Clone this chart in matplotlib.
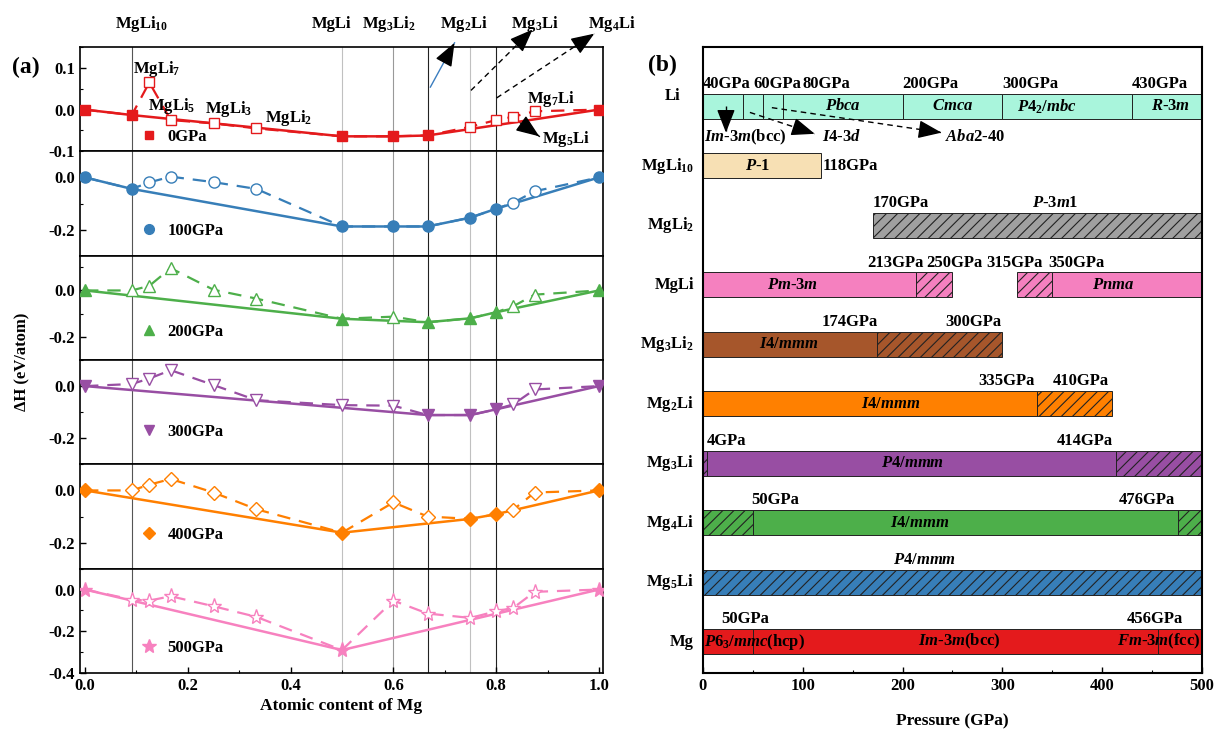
import matplotlib
matplotlib.use('Agg')
from matplotlib import pyplot as plt
from matplotlib.ticker import MultipleLocator, FormatStrFormatter
from matplotlib.lines import Line2D
import numpy as np

plt.rcParams['font.family'] = 'Liberation Serif'
plt.rcParams['font.weight'] = 'bold'
plt.rcParams['axes.unicode_minus'] = False
plt.rcParams['mathtext.fontset'] = 'custom'
plt.rcParams['mathtext.rm'] = 'Liberation Serif:bold'
plt.rcParams['mathtext.it'] = 'Liberation Serif:italic:bold'
plt.rcParams['mathtext.bf'] = 'Liberation Serif:bold'
plt.rcParams['hatch.linewidth'] = 0.8

# ---------------- (a) formation enthalpy vs composition ----------------
x_mg = np.array([0, 1/11, 1/8, 1/6, 1/4, 1/3, 1/2, 3/5, 2/3, 3/4, 4/5, 5/6, 7/8, 1])
pressures = [0, 100, 200, 300, 400, 500]

dH_0 = [0, -0.013, 0.065, -0.025, -0.033, -0.045, -0.064, -0.064, -0.062, -0.041, -0.025, -0.017, -0.004, 0]
dH_100 = [0, -0.044, -0.019, 0.003, -0.018, -0.044, -0.188, -0.188, -0.188, -0.154, -0.120, -0.097, -0.053, 0]
dH_200 = [0, 0.0, 0.020, 0.096, 0.003, -0.035, -0.122, -0.113, -0.137, -0.120, -0.094, -0.068, -0.018, 0]
dH_300 = [0, 0.008, 0.029, 0.061, 0.004, -0.054, -0.073, -0.075, -0.111, -0.111, -0.089, -0.070, -0.013, 0]
dH_400 = [0, 0.0, 0.022, 0.044, -0.008, -0.072, -0.162, -0.046, -0.100, -0.109, -0.091, -0.074, -0.008, 0]
dH_500 = [0, -0.048, -0.053, -0.032, -0.080, -0.131, -0.290, -0.053, -0.115, -0.136, -0.104, -0.088, -0.011, 0]
dH_all = [dH_0, dH_100, dH_200, dH_300, dH_400, dH_500]

# compositions on the convex hull at each pressure
stable_0 = [0, 1/11, 1/2, 3/5, 2/3, 1]
stable_100 = [0, 1/11, 1/2, 3/5, 2/3, 3/4, 4/5, 1]
stable_200 = [0, 1/2, 2/3, 3/4, 4/5, 1]
stable_300 = [0, 2/3, 3/4, 4/5, 1]
stable_400 = [0, 1/2, 3/4, 4/5, 1]
stable_500 = [0, 1/2, 1]
stable_all = [stable_0, stable_100, stable_200, stable_300, stable_400, stable_500]

colors = ['#e41a1c', '#377eb8', '#4daf4a', '#984ea3', '#ff7f00', '#f781bf']
markers = ['s', 'o', '^', 'v', 'D', '*']
msizes = [7, 8, 8.5, 8.5, 7.5, 11]
ylims = [(-0.1, 0.15), (-0.3, 0.1), (-0.3, 0.15), (-0.3, 0.1), (-0.3, 0.1), (-0.4, 0.1)]
legend_y = [0.14, 0.24, 0.27, 0.31, 0.32, 0.24]

# reference compositions marked by vertical lines
vlines_x = [1/11, 1/2, 3/5, 2/3, 3/4, 4/5]
vlines_c = ['#555555', '#c0c0c0', '#999999', '#222222', '#c0c0c0', '#222222']

fig = plt.figure(figsize=(12.15, 7.29), dpi=100)
gs = fig.add_gridspec(6, 1, left=0.0658, right=0.4963, top=0.9355, bottom=0.0768, hspace=0)
axes_a = [fig.add_subplot(gs[i]) for i in range(6)]


def draw_arrow(ax, start, tip, shaft='k', ls=(0, (4, 3)), lw=1.0, frac=0.2):
    ax.plot([start[0], tip[0]], [start[1], tip[1]], color=shaft, ls=ls, lw=lw, clip_on=False)
    base = (tip[0] - frac * (tip[0] - start[0]), tip[1] - frac * (tip[1] - start[1]))
    ax.annotate('', xy=tip, xytext=base, annotation_clip=False,
                arrowprops=dict(arrowstyle='-|>,head_length=0.9,head_width=0.35', color='k',
                                lw=lw, shrinkA=0, shrinkB=0, mutation_scale=16))


for i, ax in enumerate(axes_a):
    c = colors[i]
    y = np.array(dH_all[i])
    st = np.array([np.any(np.isclose(x, stable_all[i])) for x in x_mg])
    for xv, vc in zip(vlines_x, vlines_c):
        ax.axvline(xv, color=vc, lw=0.8, zorder=0)
    ax.plot(x_mg, y, color=c, ls=(0, (6, 4)), lw=1.6, zorder=2)
    ax.plot(x_mg[st], y[st], color=c, lw=1.8, zorder=3)
    ax.plot(x_mg[~st], y[~st], ls='none', marker=markers[i], ms=msizes[i], mfc='white',
            mec=c, mew=1.0, zorder=4)
    ax.plot(x_mg[st], y[st], ls='none', marker=markers[i], ms=msizes[i], color=c, zorder=5)
    h = Line2D([], [], ls='none', marker=markers[i], ms=msizes[i] - 1, color=c)
    ax.legend([h], [f'{pressures[i]}GPa'], loc='center left', bbox_to_anchor=(0.116, legend_y[i]),
              frameon=False, handlelength=1.0, handletextpad=0.6, borderpad=0, borderaxespad=0,
              prop={'size': 12, 'weight': 'bold'})
    ax.set_xlim(-0.01, 1.008)
    ax.set_ylim(*ylims[i])
    ax.yaxis.set_major_locator(MultipleLocator(0.1 if i == 0 else 0.2))
    ax.yaxis.set_minor_locator(MultipleLocator(0.05 if i == 0 else 0.1))
    ax.yaxis.set_major_formatter(FormatStrFormatter('%.1f'))
    ax.tick_params(axis='y', which='major', direction='in', length=4, width=1, labelsize=12)
    ax.tick_params(axis='y', which='minor', direction='in', length=2.5, width=0.8)
    for s in ax.spines.values():
        s.set_linewidth(1.2)
    if i < 5:
        ax.tick_params(axis='x', which='both', length=0, labelbottom=False)
    else:
        ax.xaxis.set_major_locator(MultipleLocator(0.2))
        ax.xaxis.set_minor_locator(MultipleLocator(0.1))
        ax.xaxis.set_major_formatter(FormatStrFormatter('%.1f'))
        ax.tick_params(axis='x', which='major', direction='in', length=4, width=1, labelsize=12)
        ax.tick_params(axis='x', which='minor', direction='in', length=2.5, width=0.8)
        ax.set_xlabel('Atomic content of Mg', fontsize=12.5, fontweight='bold', labelpad=3)

ax0 = axes_a[0]
# compound names along the top
top_names = [(0.11, r'MgLi$_{10}$', 'center'), (0.479, 'MgLi', 'center'), (0.592, r'Mg$_3$Li$_2$', 'center'),
             (0.737, r'Mg$_2$Li', 'center'), (0.876, r'Mg$_3$Li', 'center'), (0.978, r'Mg$_4$Li', 'left')]
for xt, txt, ha in top_names:
    ax0.text(xt, 0.205, txt, ha=ha, va='center', fontsize=12, clip_on=False)

# metastable phases named inside the 0 GPa panel
ax0.text(0.093, 0.098, r'MgLi$_7$', ha='left', va='center', fontsize=12)
ax0.text(0.122, 0.008, r'MgLi$_5$', ha='left', va='center', fontsize=12)
ax0.text(0.233, 0.001, r'MgLi$_3$', ha='left', va='center', fontsize=12)
ax0.text(0.351, -0.019, r'MgLi$_2$', ha='left', va='center', fontsize=12)
ax0.text(0.86, 0.026, r'Mg$_7$Li', ha='left', va='center', fontsize=12)
ax0.text(0.89, -0.07, r'Mg$_5$Li', ha='left', va='center', fontsize=12)
draw_arrow(ax0, (0.836, -0.022), (0.884, -0.064), ls='-', frac=0.5)

draw_arrow(ax0, (0.672, 0.054), (0.719, 0.16), shaft='#3b7dbf', ls='-', frac=0.3)
draw_arrow(ax0, (0.751, 0.046), (0.871, 0.192))
draw_arrow(ax0, (0.801, 0.028), (0.991, 0.182))

fig.text(26 / 1215, 1 - 67 / 729, '(a)', fontsize=17, ha='center', va='center')
fig.text(22 / 1215, 1 - 362 / 729, 'ΔH (eV/atom)', fontsize=12, rotation=90, ha='center', va='center')

# ---------------- (b) pressure ranges of each phase ----------------
row_labels = ['Li', r'MgLi$_{10}$', r'MgLi$_2$', 'MgLi', r'Mg$_3$Li$_2$', r'Mg$_2$Li',
              r'Mg$_3$Li', r'Mg$_4$Li', r'Mg$_5$Li', 'Mg']
row_colors = ['#a9f5dc', '#f7e0b4', '#a0a0a0', '#f580bf', '#a6562b', '#ff8000',
              '#984ea3', '#4daf4a', '#377eb8', '#e41a1c']

# boundaries (GPa) and segment type: 's' stable, 'h' metastable (hatched), None gap
li_edges = [0, 40, 60, 80, 200, 300, 430, 500]
li_kind = ['s', 's', 's', 's', 's', 's', 's']
mgli10_edges = [0, 118]
mgli10_kind = ['s']
mgli2_edges = [170, 500]
mgli2_kind = ['h']
mgli_edges = [0, 213, 250, 315, 350, 500]
mgli_kind = ['s', 'h', None, 'h', 's']
mg3li2_edges = [0, 174, 300]
mg3li2_kind = ['s', 'h']
mg2li_edges = [0, 335, 410]
mg2li_kind = ['s', 'h']
mg3li_edges = [0, 4, 414, 500]
mg3li_kind = ['h', 's', 'h']
mg4li_edges = [0, 50, 476, 500]
mg4li_kind = ['h', 's', 'h']
mg5li_edges = [0, 500]
mg5li_kind = ['h']
mg_edges = [0, 50, 456, 500]
mg_kind = ['s', 's', 's']

edges_all = [li_edges, mgli10_edges, mgli2_edges, mgli_edges, mg3li2_edges,
             mg2li_edges, mg3li_edges, mg4li_edges, mg5li_edges, mg_edges]
kind_all = [li_kind, mgli10_kind, mgli2_kind, mgli_kind, mg3li2_kind,
            mg2li_kind, mg3li_kind, mg4li_kind, mg5li_kind, mg_kind]

axb = fig.add_axes([0.5786, 0.0768, 0.9893 - 0.5786, 0.9355 - 0.0768])
bar_h = 0.42
for r, (edges, kinds) in enumerate(zip(edges_all, kind_all)):
    for k, kind in enumerate(kinds):
        if kind is None:
            continue
        axb.barh(r, edges[k + 1] - edges[k], left=edges[k], height=bar_h, color=row_colors[r],
                 edgecolor='#222222', linewidth=0.7, hatch='///' if kind == 'h' else None, zorder=2)
    lx, dy = (-0.045, -0.18) if r == 0 else (-0.018, 0.0)
    axb.text(lx, r + dy, row_labels[r], transform=axb.get_yaxis_transform(), ha='right',
             va='center', fontsize=12)

# transition pressure labels: (row, pressure, x position, alignment, vertical offset)
p_labels = [(0, 40, 0, 'left', -0.38), (0, 60, 50, 'left', -0.38), (0, 80, 100, 'left', -0.38),
            (0, 200, 200, 'left', -0.38), (0, 300, 300, 'left', -0.38), (0, 430, 430, 'left', -0.38),
            (1, 118, 120, 'left', 0.0), (2, 170, 170, 'left', -0.37),
            (3, 213, 165, 'left', -0.36), (3, 250, 224, 'left', -0.36), (3, 315, 284, 'left', -0.36),
            (3, 350, 346, 'left', -0.36),
            (4, 174, 175, 'right', -0.38), (4, 300, 299, 'right', -0.38),
            (5, 335, 332, 'right', -0.38), (5, 410, 407, 'right', -0.38),
            (6, 4, 4, 'left', -0.38), (6, 414, 411, 'right', -0.38),
            (7, 50, 48, 'left', -0.38), (7, 476, 473, 'right', -0.38),
            (9, 50, 42, 'center', -0.38), (9, 456, 453, 'center', -0.38)]
for r, p, xp, ha, dy in p_labels:
    axb.text(xp, r + dy, f'{p}GPa', ha=ha, va='center', fontsize=12)

# space-group names
sg_labels = [(0, r'$Pbca$', 140, 'center', 0.0), (0, r'$Cmca$', 250, 'center', 0.0),
             (0, r'$P$4$_2$/$mbc$', 345, 'center', 0.0), (0, r'$R$-3$m$', 468, 'center', 0.0),
             (0, r'$Im$-3$m$(bcc)', 1, 'left', 0.52), (0, r'$I$4-3$d$', 119, 'left', 0.52),
             (0, r'$Aba$2-40', 242, 'left', 0.52),
             (1, r'$P$-1', 55, 'center', 0.0), (2, r'$P$-3$m$1', 353, 'center', -0.37),
             (3, r'$Pm$-3$m$', 90, 'center', 0.0), (3, r'$Pnma$', 411, 'center', 0.0),
             (4, r'$I$4/$mmm$', 86, 'center', 0.0), (5, r'$I$4/$mmm$', 188, 'center', 0.0),
             (6, r'$P$4/$mmm$', 210, 'center', 0.0), (7, r'$I$4/$mmm$', 217, 'center', 0.0),
             (8, r'$P$4/$mmm$', 222, 'center', -0.37),
             (9, r'$P$6$_3$/$mmc$(hcp)', 1, 'left', 0.0), (9, r'$Im$-3$m$(bcc)', 257, 'center', 0.0),
             (9, r'$Fm$-3$m$(fcc)', 499, 'right', 0.0)]
for r, txt, xp, ha, dy in sg_labels:
    axb.text(xp, r + dy, txt, ha=ha, va='center', fontsize=12, zorder=4)

draw_arrow(axb, (23, 0.0), (23, 0.44), frac=0.6)
draw_arrow(axb, (47, 0.1), (112, 0.46), frac=0.3)
draw_arrow(axb, (69, 0.02), (239, 0.44), frac=0.12)

axb.set_xlim(0, 500)
axb.set_ylim(9.53, -1.0)
axb.set_yticks([])
axb.xaxis.set_major_locator(MultipleLocator(100))
axb.xaxis.set_minor_locator(MultipleLocator(50))
axb.tick_params(axis='x', which='major', direction='in', length=4, width=1, labelsize=12)
axb.tick_params(axis='x', which='minor', direction='in', length=2.5, width=0.8)
for s in axb.spines.values():
    s.set_linewidth(1.5)
axb.set_xlabel('Pressure (GPa)', fontsize=12.5, fontweight='bold', labelpad=14)

fig.text(662 / 1215, 1 - 65 / 729, '(b)', fontsize=17, ha='center', va='center')

fig.savefig('out.png', dpi=100)
